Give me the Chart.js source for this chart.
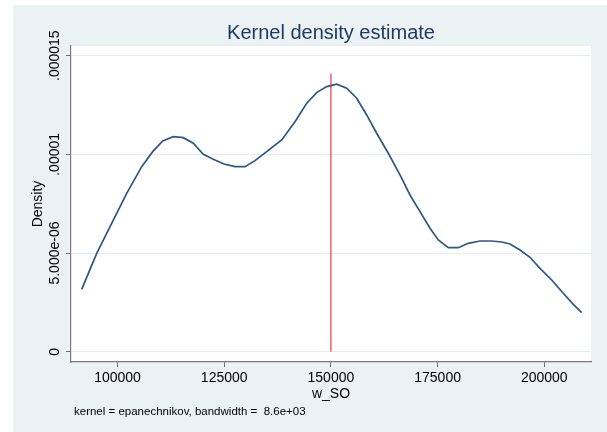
<!DOCTYPE html>
<html>
<head>
<meta charset="utf-8">
<title>Kernel density estimate</title>
<script src="https://cdn.jsdelivr.net/npm/chart.js@4/dist/chart.umd.min.js"></script>
<style>
  html, body { margin: 0; padding: 0; background: #ffffff; }
  canvas { display: block; }
</style>
</head>
<body>
<canvas id="kde" width="607" height="432"></canvas>
<script>
// Evaluation points of the density estimate (w_SO)
const gridX = [
  91612, 95126, 98641, 102156, 105670, 108248, 110590, 113074, 115417, 117760,
  120103, 122446, 124953, 127530, 129873, 132216, 134958, 138472, 141588, 144330,
  146673, 149016, 151359, 153702, 156045, 158388, 160731, 163449, 166190, 168533,
  170876, 173219, 175164, 177507, 179850, 182193, 184934, 187676, 190019, 191964,
  194307, 196650, 198993, 201734, 204452, 206795, 208763
];
// Estimated density at each point (units of 1e-6)
const densityE6 = [
  3.163, 4.987, 6.508, 8.028, 9.377, 10.137, 10.679, 10.897, 10.846, 10.563,
  10.005, 9.752, 9.513, 9.377, 9.377, 9.681, 10.137, 10.730, 11.657, 12.590,
  13.127, 13.431, 13.553, 13.350, 12.843, 11.997, 11.069, 10.056, 8.956, 7.942,
  7.096, 6.254, 5.661, 5.271, 5.271, 5.494, 5.611, 5.611, 5.560, 5.459,
  5.155, 4.785, 4.227, 3.634, 2.960, 2.402, 1.977
];
// Vertical reference line
const refX = [150000, 150000];
const refY = [0, 0.0000141];

// Axis ticks
const xTickValues = [100000, 125000, 150000, 175000, 200000];
const xTickLabels = ["100000", "125000", "150000", "175000", "200000"];
const yTickValues = [0, 0.000005, 0.00001, 0.000015];
const yTickLabels = ["0", "5.000e-06", ".00001", ".000015"];

const titleText = "Kernel density estimate";
const xTitle = "w_SO";
const yTitle = "Density";
const noteText = "kernel = epanechnikov, bandwidth =  8.6e+03";

const FONT = "'Liberation Sans', Arial, Helvetica, sans-serif";

const curvePoints = gridX.map((x, i) => ({ x: x, y: densityE6[i] * 1e-6 }));
const refPoints = refX.map((x, i) => ({ x: x, y: refY[i] }));

const framePlugin = {
  id: 'frame',
  beforeDraw(chart) {
    const ctx = chart.ctx;
    const a = chart.chartArea;
    ctx.save();
    ctx.fillStyle = '#ffffff';
    ctx.fillRect(0, 0, chart.width, chart.height);
    ctx.fillStyle = '#eaf2f3';
    ctx.fillRect(13, 5, chart.width - 13, chart.height - 5);
    ctx.fillStyle = '#ffffff';
    ctx.fillRect(a.left, a.top, a.right - a.left, a.bottom - a.top);
    ctx.restore();
  },
  afterDraw(chart) {
    const ctx = chart.ctx;
    const a = chart.chartArea;
    const ys = chart.scales.y;
    const cx = (a.left + a.right) / 2;
    ctx.save();
    // title
    ctx.fillStyle = '#1f3a63';
    ctx.font = "20px " + FONT;
    ctx.textAlign = 'center';
    ctx.textBaseline = 'middle';
    ctx.fillText(titleText, cx, 33);
    // y tick labels, rotated
    ctx.fillStyle = '#000000';
    ctx.font = "14px " + FONT;
    yTickValues.forEach((v, i) => {
      const py = ys.getPixelForValue(v);
      ctx.save();
      ctx.translate(55, py);
      ctx.rotate(-Math.PI / 2);
      ctx.textAlign = 'center';
      ctx.textBaseline = 'middle';
      ctx.fillText(yTickLabels[i], 0, 0);
      ctx.restore();
    });
    // y axis title
    ctx.save();
    ctx.translate(38, (a.top + a.bottom) / 2);
    ctx.rotate(-Math.PI / 2);
    ctx.textAlign = 'center';
    ctx.textBaseline = 'middle';
    ctx.fillText(yTitle, 0, 0);
    ctx.restore();
    // x axis title
    ctx.textAlign = 'center';
    ctx.textBaseline = 'middle';
    ctx.fillText(xTitle, cx, 394);
    // note
    ctx.font = "11.5px " + FONT;
    ctx.textAlign = 'left';
    ctx.fillText(noteText, 74, 412);
    ctx.restore();
  }
};

new Chart(document.getElementById('kde'), {
  type: 'scatter',
  data: {
    datasets: [
      {
        data: curvePoints,
        showLine: true,
        borderColor: '#2c5883',
        borderWidth: 1.7,
        pointRadius: 0,
        tension: 0,
        fill: false
      },
      {
        data: refPoints,
        showLine: true,
        borderColor: '#ef6262',
        borderWidth: 1.5,
        pointRadius: 0,
        tension: 0,
        fill: false
      }
    ]
  },
  options: {
    responsive: false,
    animation: false,
    devicePixelRatio: 1,
    layout: { padding: { left: 0, right: 16, top: 46, bottom: 0 } },
    plugins: {
      legend: { display: false },
      tooltip: { enabled: false },
      title: { display: false }
    },
    scales: {
      x: {
        type: 'linear',
        min: 89105,
        max: 210942,
        afterBuildTicks(scale) {
          scale.ticks = xTickValues.map(v => ({ value: v }));
        },
        afterFit(scale) { scale.height = 70; },
        ticks: {
          callback(value) {
            const i = xTickValues.indexOf(value);
            return i >= 0 ? xTickLabels[i] : '';
          },
          color: '#000000',
          font: { family: FONT, size: 14 },
          padding: 3,
          maxRotation: 0,
          minRotation: 0
        },
        grid: {
          drawOnChartArea: false,
          drawTicks: true,
          tickLength: 5,
          tickColor: '#6e6e6e'
        },
        border: { display: true, color: '#7a7a7a', width: 1.2 }
      },
      y: {
        type: 'linear',
        min: -0.00000052,
        max: 0.00001549,
        afterBuildTicks(scale) {
          scale.ticks = yTickValues.map(v => ({ value: v }));
        },
        afterFit(scale) { scale.width = 71; },
        ticks: { display: false },
        grid: {
          drawOnChartArea: true,
          color: '#e6eef0',
          lineWidth: 1,
          drawTicks: true,
          tickLength: 5,
          tickColor: '#6e6e6e'
        },
        border: { display: true, color: '#7a7a7a', width: 1.2 }
      }
    }
  },
  plugins: [framePlugin]
});
</script>
</body>
</html>
